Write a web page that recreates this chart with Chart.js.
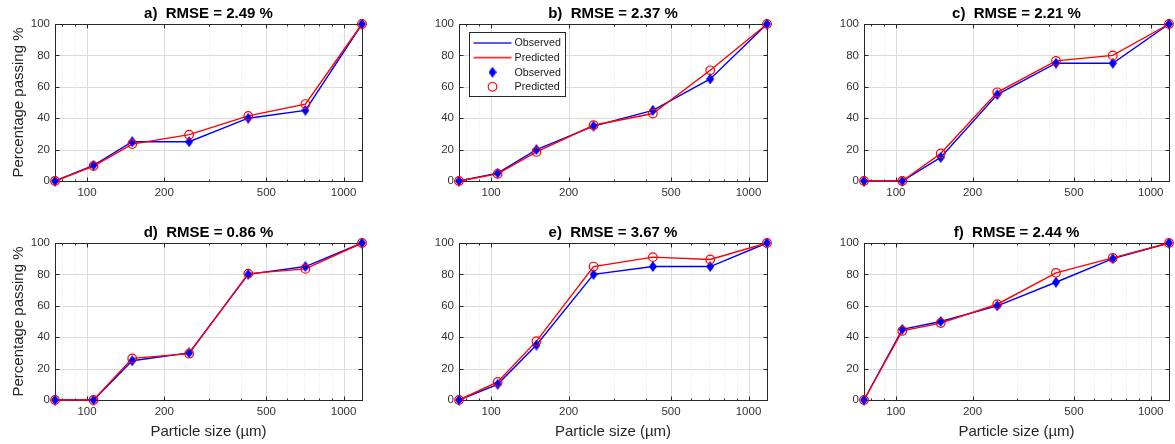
<!DOCTYPE html>
<html>
<head>
<meta charset="utf-8">
<script src="https://cdn.jsdelivr.net/npm/chart.js@4/dist/chart.umd.min.js"></script>
<style>
body { margin: 0; background: #fff; }
#wrap { position: relative; width: 1175px; height: 444px; overflow: hidden; background: #fff; }
#wrap canvas { position: absolute; }
</style>
</head>
<body>
<div id="wrap"></div>
<script>
// sieve sizes (µm) and percentage passing
var sizes = [75, 106, 150, 250, 425, 710, 1180];

var obs_a  = [0, 10, 25, 25, 40, 45, 100];
var pred_a = [0, 9.5, 23.5, 29.5, 41.5, 49, 100];
var obs_b  = [0, 5, 20, 35, 45, 65, 100];
var pred_b = [0, 4.5, 18.5, 35.5, 43, 70.5, 100];
var obs_c  = [0, 0, 15, 55, 75, 75, 100];
var pred_c = [0, 0, 17.5, 56.5, 76.5, 80, 100];
var obs_d  = [0, 0, 25, 30, 80, 85, 100];
var pred_d = [0, 0, 26.5, 29.5, 80.5, 83.5, 100];
var obs_e  = [0, 10, 35, 80, 85, 85, 100];
var pred_e = [0, 11.5, 37.5, 85, 91, 89.5, 100];
var obs_f  = [0, 45, 50, 60, 75, 90, 100];
var pred_f = [0, 44, 49, 61, 81, 90.5, 100];

var titles = [
        "a)  RMSE = 2.49 %",
        "b)  RMSE = 2.37 %",
        "c)  RMSE = 2.21 %",
        "d)  RMSE = 0.86 %",
        "e)  RMSE = 3.67 %",
        "f)  RMSE = 2.44 %"
];

var x_ticks = [100, 200, 500, 1000];
var x_minor = [80, 90, 300, 400, 600, 700, 800, 900];
var y_ticks = [0, 20, 40, 60, 80, 100];

var y_label = "Percentage passing %";
var x_label = "Particle size (\u00b5m)";
var legend_labels = ["Observed", "Predicted", "Observed", "Predicted"];

var FONT = "'Liberation Sans', Arial, Helvetica, sans-serif";
var AXIS_COLOR = "#262626";
var TICK_COLOR = "#333333";

function make_diamond(w, h, color) {
        var c = document.createElement("canvas");
        c.width = w;
        c.height = h;
        var ctx = c.getContext("2d");
        ctx.fillStyle = color;
        ctx.beginPath();
        ctx.moveTo(w / 2, 0);
        ctx.lineTo(w, h / 2);
        ctx.lineTo(w / 2, h);
        ctx.lineTo(0, h / 2);
        ctx.closePath();
        ctx.fill();
        return c;
}

var diamond = make_diamond(8, 11, "#0000ff");

function to_points(values) {
        return sizes.map(function(s, i) { return { x: s, y: values[i] }; });
}

function hline(ctx, x1, x2, y) {
        ctx.beginPath(); ctx.moveTo(x1, y); ctx.lineTo(x2, y); ctx.stroke();
}
function vline(ctx, x, y1, y2) {
        ctx.beginPath(); ctx.moveTo(x, y1); ctx.lineTo(x, y2); ctx.stroke();
}

// MATLAB-like box, grid, inward ticks, title and legend
var matlab_axes = {
        id: "matlab_axes",
        beforeDatasetsDraw: function(chart, args, opts) {
                var ctx = chart.ctx, a = chart.chartArea;
                var xs = chart.scales.x, ys = chart.scales.y;
                var l = Math.round(a.left) + 0.5, r = Math.round(a.right) + 0.5;
                var t = Math.round(a.top) + 0.5, b = Math.round(a.bottom) + 0.5;
                ctx.save();
                ctx.lineWidth = 1;

                ctx.strokeStyle = "#e0e0e0";
                ctx.setLineDash([1, 2]);
                x_minor.forEach(function(v) {
                        vline(ctx, Math.round(xs.getPixelForValue(v)) + 0.5, t, b);
                });
                ctx.setLineDash([]);

                ctx.strokeStyle = "#dcdcdc";
                x_ticks.forEach(function(v) {
                        vline(ctx, Math.round(xs.getPixelForValue(v)) + 0.5, t, b);
                });
                y_ticks.forEach(function(v) {
                        if (v === 0 || v === 100) return;
                        hline(ctx, l, r, Math.round(ys.getPixelForValue(v)) + 0.5);
                });

                ctx.strokeStyle = AXIS_COLOR;
                ctx.strokeRect(l, t, r - l, b - t);

                x_ticks.forEach(function(v) {
                        var px = Math.round(xs.getPixelForValue(v)) + 0.5;
                        vline(ctx, px, b, b - 4);
                        vline(ctx, px, t, t + 4);
                });
                x_minor.forEach(function(v) {
                        var px = Math.round(xs.getPixelForValue(v)) + 0.5;
                        vline(ctx, px, b, b - 2);
                        vline(ctx, px, t, t + 2);
                });
                y_ticks.forEach(function(v) {
                        var py = Math.round(ys.getPixelForValue(v)) + 0.5;
                        hline(ctx, l, l + 4, py);
                        hline(ctx, r, r - 4, py);
                });
                ctx.restore();
        },
        afterDraw: function(chart, args, opts) {
                var ctx = chart.ctx, a = chart.chartArea;
                ctx.save();
                ctx.fillStyle = "#000";
                ctx.font = "bold 15px " + FONT;
                ctx.textAlign = "center";
                ctx.textBaseline = "middle";
                ctx.fillText(opts.title, (a.left + a.right) / 2, a.top - 10);

                if (opts.legend) {
                        var bx = Math.round(a.left) + 10.5, by = Math.round(a.top) + 8.5;
                        var bw = 96, bh = 64;
                        ctx.fillStyle = "#fff";
                        ctx.fillRect(bx, by, bw, bh);
                        ctx.strokeStyle = AXIS_COLOR;
                        ctx.lineWidth = 1;
                        ctx.strokeRect(bx, by, bw, bh);
                        ctx.font = "10.7px " + FONT;
                        ctx.textAlign = "left";
                        ctx.textBaseline = "middle";
                        for (var i = 0; i < 4; i++) {
                                var ry = by + 10.5 + i * 14.6;
                                var red = (i % 2 === 1);
                                if (i < 2) {
                                        ctx.strokeStyle = red ? "#ff3030" : "#2020ff";
                                        ctx.lineWidth = 1.6;
                                        hline(ctx, bx + 4, bx + 42, ry);
                                } else if (red) {
                                        ctx.strokeStyle = "#ff0000";
                                        ctx.lineWidth = 1.2;
                                        ctx.beginPath();
                                        ctx.arc(bx + 23, ry, 4.3, 0, Math.PI * 2);
                                        ctx.stroke();
                                } else {
                                        ctx.drawImage(diamond, bx + 23 - 4, ry - 5.5);
                                }
                                ctx.fillStyle = "#1a1a1a";
                                ctx.fillText(legend_labels[i], bx + 45, ry + 0.5);
                        }
                }
                ctx.restore();
        }
};

var panels = [
        { left: 0,   top: 0,   width: 370, height: 210, pad_top: 24, pad_right: 8, x_h: 29, obs: obs_a, pred: pred_a, ylab: true,  xlab: false, legend: false },
        { left: 404, top: 0,   width: 371, height: 210, pad_top: 24, pad_right: 8, x_h: 29, obs: obs_b, pred: pred_b, ylab: false, xlab: false, legend: true },
        { left: 809, top: 0,   width: 366, height: 210, pad_top: 24, pad_right: 4, x_h: 29, obs: obs_c, pred: pred_c, ylab: false, xlab: false, legend: false },
        { left: 0,   top: 220, width: 370, height: 224, pad_top: 23, pad_right: 8, x_h: 44, obs: obs_d, pred: pred_d, ylab: true,  xlab: true,  legend: false },
        { left: 404, top: 220, width: 371, height: 224, pad_top: 23, pad_right: 8, x_h: 44, obs: obs_e, pred: pred_e, ylab: false, xlab: true,  legend: false },
        { left: 809, top: 220, width: 366, height: 224, pad_top: 23, pad_right: 4, x_h: 44, obs: obs_f, pred: pred_f, ylab: false, xlab: true,  legend: false }
];

function init_panel(p, idx) {
        var cv = document.createElement("canvas");
        cv.width = p.width;
        cv.height = p.height;
        cv.style.left = p.left + "px";
        cv.style.top = p.top + "px";
        document.getElementById("wrap").appendChild(cv);

        new Chart(cv, {
                type: "line",
                data: {
                        datasets: [{
                                data: to_points(p.obs),
                                borderColor: "#0000ff",
                                borderWidth: 1.4,
                                pointRadius: 0,
                                fill: false,
                                clip: false,
                                order: 4
                        }, {
                                data: to_points(p.pred),
                                borderColor: "#ff0000",
                                borderWidth: 1.4,
                                pointRadius: 0,
                                fill: false,
                                clip: false,
                                order: 3
                        }, {
                                data: to_points(p.obs),
                                showLine: false,
                                pointStyle: diamond,
                                pointRadius: 5,
                                clip: false,
                                order: 2
                        }, {
                                data: to_points(p.pred),
                                showLine: false,
                                pointStyle: "circle",
                                pointRadius: 4.3,
                                pointBorderColor: "#ff0000",
                                pointBackgroundColor: "rgba(0,0,0,0)",
                                pointBorderWidth: 1.2,
                                clip: false,
                                order: 1
                        }]
                },
                options: {
                        responsive: false,
                        animation: false,
                        events: [],
                        layout: { padding: { top: p.pad_top, right: p.pad_right, left: 0, bottom: 0 } },
                        plugins: {
                                legend: { display: false },
                                tooltip: { enabled: false },
                                matlab_axes: { title: titles[idx], legend: p.legend }
                        },
                        scales: {
                                x: {
                                        type: "logarithmic",
                                        min: 75,
                                        max: 1180,
                                        grid: { display: false, drawTicks: false },
                                        border: { display: false },
                                        afterBuildTicks: function(axis) {
                                                axis.ticks = x_ticks.map(function(v) { return { value: v }; });
                                        },
                                        afterFit: function(s) { s.height = p.x_h; },
                                        ticks: {
                                                autoSkip: false,
                                                maxRotation: 0,
                                                padding: 5,
                                                color: TICK_COLOR,
                                                font: { family: FONT, size: 11.5 },
                                                callback: function(value) { return String(value); }
                                        },
                                        title: {
                                                display: p.xlab,
                                                text: x_label,
                                                color: AXIS_COLOR,
                                                font: { family: FONT, size: 15 },
                                                padding: { top: 0, bottom: 3 }
                                        }
                                },
                                y: {
                                        type: "linear",
                                        min: 0,
                                        max: 100,
                                        grid: { display: false, drawTicks: false },
                                        border: { display: false },
                                        afterFit: function(s) { s.width = 55; },
                                        ticks: {
                                                stepSize: 20,
                                                padding: 5,
                                                color: TICK_COLOR,
                                                font: { family: FONT, size: 11.5 }
                                        },
                                        title: {
                                                display: p.ylab,
                                                text: y_label,
                                                color: AXIS_COLOR,
                                                font: { family: FONT, size: 15 },
                                                padding: { top: 10, bottom: 0 }
                                        }
                                }
                        }
                },
                plugins: [matlab_axes]
        });
}

panels.forEach(init_panel);
</script>
</body>
</html>
